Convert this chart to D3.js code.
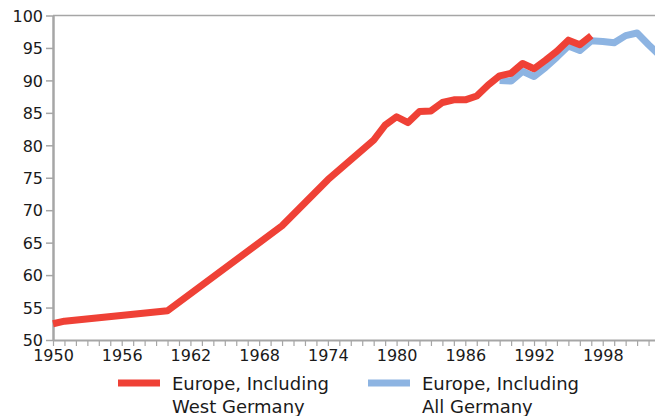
<!DOCTYPE html>
<html>
<head>
<meta charset="utf-8">
<script src="https://cdn.jsdelivr.net/npm/d3@7"></script>
<style>
  body { margin: 0; background: #fff; }
  text { font-family: "DejaVu Sans", sans-serif; fill: #1a1a1a; }
</style>
</head>
<body>
<div id="chart"></div>
<script>
// Chart data
const westYears  = [1950, 1951, 1960, 1970, 1974, 1978, 1979, 1980, 1981, 1982, 1983, 1984, 1985, 1986, 1987, 1988, 1989, 1990, 1991, 1992, 1993, 1994, 1995, 1996, 1997];
const westValues = [52.5, 52.9, 54.5, 67.6, 74.7, 80.8, 83.1, 84.4, 83.5, 85.2, 85.3, 86.6, 87.0, 87.0, 87.6, 89.3, 90.7, 91.1, 92.6, 91.8, 93.1, 94.5, 96.2, 95.5, 96.9];
const allYears   = [1989, 1990, 1991, 1992, 1993, 1994, 1995, 1996, 1997, 1998, 1999, 2000, 2001, 2002, 2003];
const allValues  = [90.0, 89.9, 91.4, 90.6, 92.0, 93.6, 95.3, 94.6, 96.1, 96.0, 95.8, 96.9, 97.3, 95.5, 93.8];
const yTicks = [50, 55, 60, 65, 70, 75, 80, 85, 90, 95, 100];
const xLabels = [1950, 1956, 1962, 1968, 1974, 1980, 1986, 1992, 1998];
const seriesNames = [["Europe, Including", "West Germany"], ["Europe, Including", "All Germany"]];
const seriesColors = ["#ef4136", "#8db4e2"];

const width = 655;
const height = 416;

const svg = d3.select("#chart")
    .append("svg")
    .attr("width", width)
    .attr("height", height);

// Scales
const x = d3.scaleLinear().domain([1950, 2003]).range([53, 660]);
const y = d3.scaleLinear().domain([50, 100]).range([340, 15.5]);

// Top border of plot area
svg.append("line")
    .attr("x1", x(1950)).attr("x2", width)
    .attr("y1", y(100)).attr("y2", y(100))
    .attr("stroke", "#a6a6a6")
    .attr("stroke-width", 1.5);

// Y axis
const yAxis = svg.append("g")
    .attr("transform", `translate(${x(1950)},0)`)
    .call(d3.axisLeft(y).tickValues(yTicks).tickSize(7).tickPadding(3).tickSizeOuter(0));
yAxis.select(".domain").attr("stroke", "#a6a6a6").attr("stroke-width", 2.5);
yAxis.selectAll(".tick line").attr("stroke", "#a6a6a6").attr("stroke-width", 1.5);
yAxis.selectAll(".tick text").style("font-size", "16px").attr("dy", "0.36em");

// X axis: a tick for every year, labels every sixth year
const xAxis = svg.append("g")
    .attr("transform", `translate(0,${y(50)})`)
    .call(d3.axisBottom(x)
        .tickValues(d3.range(1950, 2004))
        .tickFormat(d => xLabels.includes(d) ? d : "")
        .tickSize(6).tickPadding(4).tickSizeOuter(0));
xAxis.select(".domain").attr("stroke", "#a6a6a6").attr("stroke-width", 2);
xAxis.selectAll(".tick line").attr("stroke", "#a6a6a6").attr("stroke-width", 1.2);
xAxis.selectAll(".tick text").style("font-size", "16px");

// Lines (red drawn on top of blue)
const line = d3.line()
    .x(d => x(d[0]))
    .y(d => y(d[1]));

const series = [
    d3.zip(allYears, allValues),
    d3.zip(westYears, westValues)
];
const colors = [seriesColors[1], seriesColors[0]];

svg.selectAll(".series")
    .data(series)
    .enter().append("path")
    .attr("class", "series")
    .attr("d", line)
    .attr("fill", "none")
    .attr("stroke", (d, i) => colors[i])
    .attr("stroke-width", 7)
    .attr("stroke-linejoin", "round");

// Legend
const legendX = [118, 368];
const legend = svg.selectAll(".legend")
    .data(seriesNames)
    .enter().append("g")
    .attr("class", "legend")
    .attr("transform", (d, i) => `translate(${legendX[i]},383)`);

legend.append("line")
    .attr("x1", 0).attr("x2", 42)
    .attr("stroke", (d, i) => seriesColors[i])
    .attr("stroke-width", 7);

legend.append("text")
    .attr("x", 54)
    .attr("y", 7)
    .style("font-size", "18px")
    .selectAll("tspan")
    .data(d => d)
    .enter().append("tspan")
    .attr("x", 54)
    .attr("dy", (d, i) => i === 0 ? 0 : 23)
    .text(d => d);
</script>
</body>
</html>
